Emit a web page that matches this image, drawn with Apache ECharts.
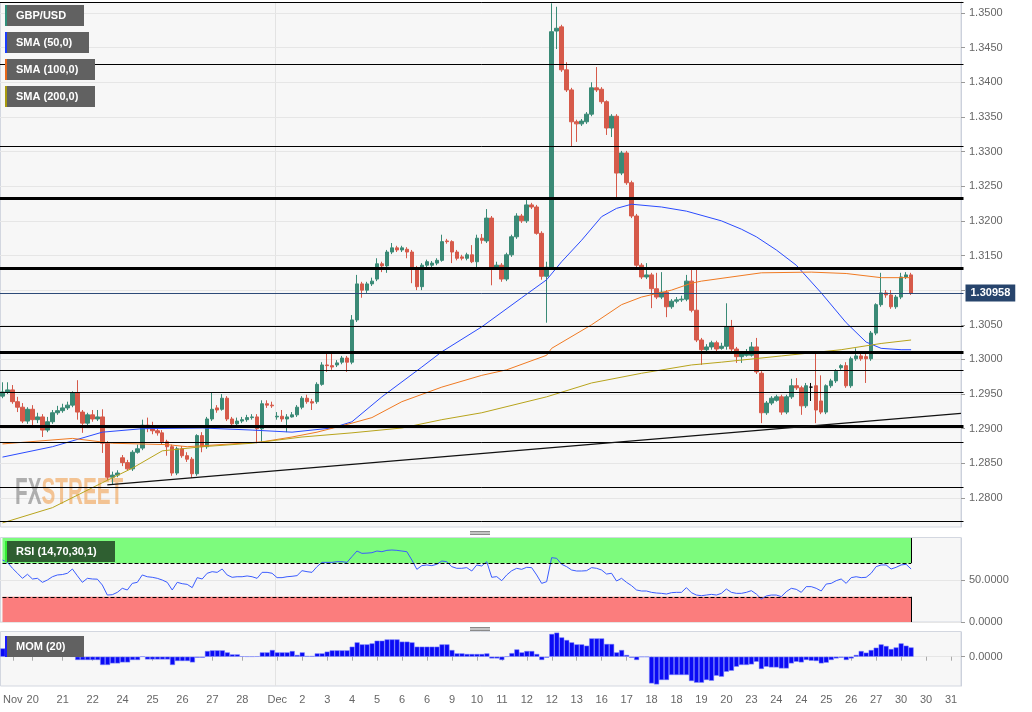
<!DOCTYPE html>
<html><head><meta charset="utf-8">
<script src="https://cdn.jsdelivr.net/npm/echarts@6/dist/echarts.min.js"></script>
<style>html,body{margin:0;padding:0;background:#fff}#c{width:1032px;height:712px}</style>
</head><body><div id="c"></div>
<script>
// ---- DATA ----
// 4H candles: [open, close, low, high]
const ohlc = [
[1.2947,1.2953,1.2944,1.2967],[1.2953,1.2956,1.2950,1.2967],[1.2956,1.2939,1.2936,1.2963],[1.2939,1.2931,1.2924,1.2946],[1.2931,1.2911,1.2908,1.2937],
[1.2911,1.2928,1.2907,1.2931],[1.2928,1.2913,1.2901,1.2934],[1.2913,1.2917,1.2908,1.2923],[1.2917,1.2898,1.2888,1.2921],[1.2898,1.2910,1.2895,1.2917],
[1.2910,1.2923,1.2907,1.2927],[1.2923,1.2926,1.2920,1.2933],[1.2926,1.2930,1.2923,1.2936],[1.2930,1.2934,1.2927,1.2939],[1.2934,1.2952,1.2931,1.2954],
[1.2952,1.2924,1.2913,1.2970],[1.2924,1.2908,1.2894,1.2927],[1.2908,1.2920,1.2905,1.2923],[1.2920,1.2914,1.2910,1.2927],[1.2914,1.2917,1.2911,1.2927],
[1.2917,1.2879,1.2865,1.2928],[1.2879,1.2830,1.2826,1.2882],[1.2830,1.2833,1.2819,1.2838],[1.2833,1.2836,1.2830,1.2840],[1.2858,1.2851,1.2846,1.2862],
[1.2851,1.2842,1.2839,1.2855],[1.2842,1.2866,1.2839,1.2869],[1.2866,1.2871,1.2864,1.2877],[1.2872,1.2905,1.2869,1.2913],[1.2905,1.2901,1.2895,1.2916],
[1.2901,1.2897,1.2892,1.2910],[1.2897,1.2894,1.2890,1.2904],[1.2894,1.2881,1.2877,1.2898],[1.2881,1.2874,1.2861,1.2884],[1.2874,1.2836,1.2832,1.2877],
[1.2836,1.2871,1.2833,1.2874],[1.2871,1.2861,1.2858,1.2875],[1.2861,1.2856,1.2852,1.2866],[1.2856,1.2835,1.2829,1.2859],[1.2835,1.2890,1.2832,1.2892],
[1.2890,1.2874,1.2866,1.2895],[1.2874,1.2914,1.2871,1.2917],[1.2914,1.2928,1.2911,1.2952],[1.2930,1.2927,1.2923,1.2934],[1.2928,1.2944,1.2926,1.2950],
[1.2944,1.2914,1.2911,1.2947],[1.2914,1.2907,1.2901,1.2917],[1.2907,1.2911,1.2904,1.2916],[1.2911,1.2913,1.2908,1.2917],[1.2913,1.2916,1.2910,1.2920],
[1.2916,1.2917,1.2913,1.2921],[1.2917,1.2900,1.2879,1.2921],[1.2900,1.2936,1.2881,1.2941],[1.2936,1.2934,1.2930,1.2941],[1.2934,1.2933,1.2930,1.2939],
[1.2917,1.2918,1.2913,1.2924],[1.2918,1.2914,1.2910,1.2927],[1.2914,1.2917,1.2895,1.2921],[1.2917,1.2920,1.2916,1.2924],[1.2920,1.2931,1.2917,1.2934],
[1.2931,1.2944,1.2928,1.2947],[1.2944,1.2939,1.2936,1.2949],[1.2939,1.2937,1.2927,1.2943],[1.2939,1.2964,1.2936,1.2967],[1.2964,1.2992,1.2962,1.2996],
[1.2992,1.2991,1.2982,1.3009],[1.2991,1.2989,1.2985,1.3009],[1.2992,1.2995,1.2989,1.2999],[1.2996,1.3002,1.2993,1.3005],[1.3002,1.2996,1.2982,1.3005],
[1.2996,1.3057,1.2993,1.3064],[1.3057,1.3109,1.3054,1.3122],[1.3109,1.3100,1.3089,1.3112],[1.3100,1.3109,1.3096,1.3112],[1.3109,1.3113,1.3106,1.3118],
[1.3116,1.3138,1.3113,1.3146],[1.3138,1.3135,1.3126,1.3141],[1.3135,1.3155,1.3125,1.3158],[1.3155,1.3161,1.3152,1.3168],[1.3161,1.3158,1.3155,1.3164],
[1.3158,1.3161,1.3155,1.3164],[1.3159,1.3155,1.3146,1.3162],[1.3155,1.3132,1.3110,1.3158],[1.3132,1.3105,1.3100,1.3135],[1.3105,1.3136,1.3100,1.3139],
[1.3136,1.3141,1.3133,1.3144],[1.3136,1.3139,1.3132,1.3142],[1.3139,1.3143,1.3136,1.3146],[1.3143,1.3170,1.3141,1.3180],[1.3171,1.3170,1.3167,1.3174],
[1.3170,1.3155,1.3139,1.3172],[1.3155,1.3146,1.3143,1.3158],[1.3148,1.3146,1.3143,1.3151],[1.3146,1.3151,1.3143,1.3154],[1.3151,1.3141,1.3139,1.3165],
[1.3141,1.3175,1.3132,1.3180],[1.3175,1.3172,1.3167,1.3181],[1.3171,1.3204,1.3168,1.3217],[1.3204,1.3133,1.3107,1.3207],[1.3133,1.3136,1.3131,1.3141],
[1.3136,1.3116,1.3112,1.3139],[1.3116,1.3151,1.3113,1.3154],[1.3151,1.3177,1.3148,1.3180],[1.3177,1.3207,1.3174,1.3211],[1.3207,1.3200,1.3197,1.3210],
[1.3200,1.3223,1.3197,1.3230],[1.3223,1.3220,1.3217,1.3226],[1.3220,1.3182,1.3180,1.3223],[1.3182,1.3120,1.3115,1.3185],[1.3120,1.3133,1.3053,1.3141],
[1.3133,1.3473,1.3131,1.3514],[1.3474,1.3478,1.3448,1.3509],[1.3480,1.3418,1.3415,1.3483],[1.3418,1.3389,1.3386,1.3429],[1.3389,1.3343,1.3307,1.3392],
[1.3343,1.3340,1.3314,1.3346],[1.3340,1.3344,1.3337,1.3347],[1.3343,1.3354,1.3340,1.3357],[1.3354,1.3392,1.3351,1.3400],[1.3392,1.3389,1.3386,1.3422],
[1.3390,1.3372,1.3369,1.3393],[1.3372,1.3334,1.3324,1.3374],[1.3334,1.3351,1.3321,1.3354],[1.3351,1.3269,1.3234,1.3354],[1.3269,1.3298,1.3266,1.3301],
[1.3298,1.3255,1.3252,1.3301],[1.3255,1.3207,1.3204,1.3258],[1.3207,1.3136,1.3132,1.3210],[1.3136,1.3119,1.3116,1.3139],[1.3119,1.3122,1.3116,1.3139],
[1.3122,1.3102,1.3074,1.3125],[1.3102,1.3090,1.3087,1.3125],[1.3090,1.3097,1.3087,1.3126],[1.3097,1.3076,1.3061,1.3100],[1.3076,1.3084,1.3073,1.3087],
[1.3084,1.3086,1.3081,1.3090],[1.3086,1.3087,1.3083,1.3092],[1.3087,1.3113,1.3084,1.3122],[1.3113,1.3071,1.3068,1.3133],[1.3071,1.3028,1.3025,1.3133],
[1.3028,1.3014,1.2992,1.3031],[1.3014,1.3018,1.3011,1.3022],[1.3018,1.3024,1.3014,1.3027],[1.3024,1.3015,1.3012,1.3027],[1.3016,1.3019,1.3014,1.3024],
[1.3019,1.3047,1.3014,1.3081],[1.3047,1.3015,1.3012,1.3057],[1.3015,1.3004,1.2995,1.3018],[1.3004,1.3008,1.2995,1.3011],[1.3006,1.3011,1.3004,1.3015],
[1.3006,1.3018,1.3004,1.3025],[1.3018,1.2982,1.2979,1.3031],[1.2980,1.2923,1.2908,1.2983],[1.2923,1.2937,1.2920,1.2940],[1.2937,1.2944,1.2934,1.2947],
[1.2941,1.2946,1.2939,1.2949],[1.2946,1.2924,1.2920,1.2949],[1.2924,1.2946,1.2921,1.2949],[1.2946,1.2962,1.2943,1.2972],[1.2962,1.2959,1.2956,1.2973],
[1.2959,1.2933,1.2920,1.2962],[1.2933,1.2962,1.2930,1.2966],[1.2960,1.2960,1.2940,1.2966],[1.2962,1.2927,1.2908,1.3009],[1.2940,1.2924,1.2921,1.2977],
[1.2924,1.2962,1.2921,1.2964],[1.2962,1.2969,1.2959,1.2972],[1.2969,1.2983,1.2966,1.2986],[1.2988,1.2991,1.2985,1.2993],[1.2991,1.2962,1.2959,1.2996],
[1.2962,1.3001,1.2959,1.3004],[1.3001,1.3005,1.2998,1.3016],[1.3005,1.3001,1.2998,1.3008],[1.3004,1.3001,1.2966,1.3008],[1.3001,1.3038,1.2998,1.3041],
[1.3038,1.3079,1.3035,1.3081],[1.3079,1.3096,1.3076,1.3125],[1.3096,1.3093,1.3089,1.3100],[1.3093,1.3076,1.3073,1.3100],[1.3076,1.3090,1.3073,1.3093],
[1.3090,1.3119,1.3087,1.3125],[1.3119,1.3122,1.3116,1.3126],[1.3122,1.30958,1.3093,1.3125]
];
const lastPrice = 1.30958;

// SMA readings (candle index, value)
const sma50Idx = [0,10,20,28,40,50,58,66,70,76,84,88,96,104,109,112,116,120,123,126,132,137,144,148,151,155,159,164,169,173,176,180,182];
const sma50Val = [1.2859,1.2874,1.2895,1.2900,1.2901,1.2898,1.2895,1.2901,1.2910,1.2946,1.2989,1.3011,1.3047,1.3089,1.3115,1.3141,1.3172,1.3206,1.3218,1.3224,1.3220,1.3214,1.3200,1.3188,1.3177,1.3158,1.3136,1.3096,1.3053,1.3025,1.3016,1.3014,1.3014];
const sma100Idx = [0,14,22,33,37,48,52,58,63,70,74,80,88,96,101,109,110,118,124,128,134,138,140,152,162,169,176,182];
const sma100Val = [1.2878,1.2886,1.2879,1.2877,1.2874,1.2879,1.2881,1.2888,1.2895,1.2908,1.2916,1.2939,1.2960,1.2977,1.2985,1.3006,1.3016,1.3050,1.3079,1.3090,1.3100,1.3110,1.3113,1.3125,1.3126,1.3124,1.3118,1.3118];
const sma200Idx = [0,10,20,26,32,40,50,60,70,80,88,96,109,118,128,138,144,156,168,176,182];
const sma200Val = [1.2764,1.2786,1.2822,1.2843,1.2868,1.2874,1.2879,1.2888,1.2894,1.2901,1.2913,1.2923,1.2946,1.2966,1.2980,1.2992,1.2996,1.3005,1.3014,1.3023,1.3028];

// RSI (14)
const rsi = [
73.8,71.0,63.9,58.0,52.0,56.8,51.2,52.0,47.2,50.0,53.9,56.0,56.5,58.0,63.1,55.0,47.2,52.0,51.2,51.0,
44.0,32.1,32.5,35.3,40.1,38.1,46.0,47.2,56.0,53.9,53.2,52.0,50.0,47.2,38.1,47.2,45.6,44.8,40.9,52.8,
51.2,58.0,59.9,59.1,63.1,56.0,53.2,53.9,53.9,54.8,53.9,52.0,59.1,59.1,58.0,52.8,52.8,53.9,54.4,55.2,
61.1,59.9,59.1,65.9,71.0,71.0,71.0,71.8,71.8,71.0,77.8,84.5,81.7,82.0,82.5,84.5,83.7,85.3,85.7,85.3,
84.5,83.7,73.8,62.7,67.1,67.9,67.1,68.7,72.6,71.8,65.9,63.9,63.9,64.7,60.7,67.9,66.7,71.8,53.2,54.0,
49.2,56.0,61.0,63.9,62.7,65.1,64.7,56.0,46.0,48.0,76.6,75.8,68.7,65.9,61.9,60.7,60.7,61.1,64.7,63.9,
61.9,57.1,58.0,48.8,52.0,47.2,43.3,38.1,36.9,36.9,35.3,34.5,34.1,33.3,34.9,35.3,35.3,40.9,34.9,32.1,
31.3,32.1,32.9,32.1,34.1,39.3,35.3,34.1,34.1,35.3,37.3,33.3,27.4,31.0,32.1,32.1,30.2,36.1,40.1,38.9,
35.3,42.1,42.1,40.1,36.9,45.2,46.0,49.2,51.2,46.0,52.8,53.9,52.8,53.2,58.0,65.9,67.9,67.9,63.1,65.1,
67.9,68.7,63.1
];
const rsiUpper = 70, rsiLower = 30;

// Momentum (20)
const mom = [
0.0115,0.0079,0.0079,0.0079,0.0046,0.0046,0.0024,0.0024,0.0024,0.0024,
0.0024,0.0024,0.0024,0.0024,0.0003,-0.0046,-0.0046,-0.0046,-0.0046,-0.0046,
-0.0115,-0.0115,-0.0093,-0.0093,-0.0079,-0.0079,-0.0046,-0.0046,0.0003,-0.0038,
-0.0038,-0.0038,-0.0038,-0.0038,-0.0115,-0.0060,-0.0060,-0.0060,-0.0079,-0.0014,
-0.0014,0.0079,0.0088,0.0088,0.0088,0.0060,0.0032,0.0032,0.0005,0.0003,
0.0003,0.0005,0.0060,0.0060,0.0093,0.0060,0.0060,0.0060,0.0079,0.0024,
0.0060,0.0010,0.0010,0.0046,0.0046,0.0070,0.0088,0.0088,0.0088,0.0088,
0.0139,0.0199,0.0171,0.0171,0.0185,0.0222,0.0222,0.0240,0.0240,0.0240,
0.0209,0.0209,0.0199,0.0139,0.0139,0.0139,0.0139,0.0139,0.0171,0.0171,
0.0093,0.0046,0.0046,0.0038,0.0038,0.0038,0.0038,0.0046,-0.0024,-0.0024,
-0.0046,0.0003,0.0050,0.0101,0.0060,0.0079,0.0079,0.0038,-0.0046,-0.0014,
0.0316,0.0334,0.0268,0.0232,0.0199,0.0171,0.0171,0.0153,0.0254,0.0254,
0.0254,0.0177,0.0177,0.0060,0.0093,0.0024,-0.0014,-0.0046,-0.0003,-0.0003,
-0.0371,-0.0385,-0.0324,-0.0324,-0.0254,-0.0254,-0.0254,-0.0254,-0.0338,-0.0361,
-0.0361,-0.0324,-0.0334,-0.0264,-0.0278,-0.0209,-0.0195,-0.0139,-0.0115,-0.0115,
-0.0107,-0.0070,-0.0171,-0.0139,-0.0149,-0.0149,-0.0163,-0.0163,-0.0093,-0.0070,
-0.0079,-0.0046,-0.0056,-0.0060,-0.0093,-0.0083,-0.0046,-0.0024,-0.0014,-0.0046,
-0.0024,0.0024,0.0079,0.0056,0.0093,0.0125,0.0171,0.0149,0.0107,0.0129,
0.0185,0.0153,0.0129
];

// Horizontal levels and trend line
const levelsThin = [1.3515,1.3426,1.3308,1.3048,1.2985,1.2952,1.2881,1.2815,1.2767];
const levelsThick = [1.3232,1.3131,1.3011,1.2904];
const trendFrom = [21, 1.2819];
const trendTo = [192, 1.2922];

// axis labels
const priceTicks = [1.28,1.285,1.29,1.295,1.30,1.305,1.31,1.315,1.32,1.325,1.33,1.335,1.34,1.345,1.35];
const xTickIdx = [2,6,12,18,24,30,36,42,48,55,60,65,70,75,80,85,90,95,100,105,110,115,120,125,130,135,140,145,150,155,160,165,170,175,180,185,190];
const xTickText = ['Nov','20','21','22','24','25','26','27','28','Dec','2','3','4','5','6','6','9','10','11','12','12','13','16','17','18','18','19','20','23','24','24','25','26','27','30','30','31'];
const nCategories = 193;

// ---- BUILD ----
const cats = Array.from({length: nCategories}, (_, i) => String(i));
const tickMap = {};
xTickIdx.forEach((k, j) => { tickMap[k] = xTickText[j]; });
function sparse(idx, val) {
  const a = new Array(ohlc.length).fill(null);
  idx.forEach((k, j) => { a[k] = val[j]; });
  return a;
}
const FONT = '"Liberation Sans", Arial, sans-serif';
const GL = -1.5, GW = 965;
const grids = [
  {left: GL, width: GW, top: 2, height: 525},
  {left: GL, width: GW, top: 538, height: 84},
  {left: GL, width: GW, top: 632, height: 54}
];
const hiddenX = (gi) => ({
  type: 'category', gridIndex: gi, data: cats, boundaryGap: true,
  axisLine: {show: false}, axisTick: {show: false}, axisLabel: {show: false}, splitLine: {show: false}
});
const yBase = {
  position: 'right', offset: -2.5,
  axisLine: {show: true, lineStyle: {color: '#ccd1dc'}},
  axisTick: {show: true, length: 4, lineStyle: {color: '#999'}},
  axisLabel: {color: '#666', fontSize: 11, fontFamily: FONT, margin: 8, formatter: v => Number(v).toFixed(4)},
  splitLine: {show: true, lineStyle: {color: '#e6e6e6', width: 1}}
};

const mctx = document.createElement('canvas').getContext('2d');
mctx.font = 'bold 37px "Liberation Sans", Arial, sans-serif';
const fxW = mctx.measureText('FX').width * 0.56;

function tag(x, y, w, txt, strip, bg) {
  return {type: 'group', x: x, y: y, z: 100, children: [
    {type: 'rect', shape: {x: 0, y: 0, width: w, height: 21}, style: {fill: bg || '#616161'}, z: 100},
    {type: 'rect', shape: {x: 0, y: 0, width: 2, height: 21}, style: {fill: strip}, z: 101},
    {type: 'text', x: 11, y: 11, z: 101, style: {text: txt, fill: '#fff', font: 'bold 11px ' + FONT, verticalAlign: 'middle', align: 'left'}}
  ]};
}
const panelStyle = {fill: '#f7f7f7', stroke: '#d3d7e0', lineWidth: 1};
const graphics = [
  {type: 'rect', z: -10, shape: {x: 0.5, y: 2.5, width: 960.5, height: 524.5}, style: panelStyle},
  {type: 'rect', z: -10, shape: {x: 0.5, y: 537.5, width: 960.5, height: 84.5}, style: panelStyle},
  {type: 'rect', z: -10, shape: {x: 0.5, y: 631.5, width: 960.5, height: 54.5}, style: panelStyle},
  {type: 'line', z: -9, shape: {x1: 275.5, y1: 3, x2: 275.5, y2: 527}, style: {stroke: '#e3e3e3', lineWidth: 1}},
  {type: 'line', z: -9, shape: {x1: 275.5, y1: 538, x2: 275.5, y2: 622}, style: {stroke: '#e3e3e3', lineWidth: 1}},
  {type: 'line', z: -9, shape: {x1: 275.5, y1: 632, x2: 275.5, y2: 686}, style: {stroke: '#e3e3e3', lineWidth: 1}},
  {type: 'text', z: 1, x: 15, y: 494, scaleX: 0.56, style: {text: 'FX', fill: 'rgba(115,115,115,0.55)', font: 'bold 37px ' + FONT, verticalAlign: 'middle'}},
  {type: 'text', z: 1, x: 15 + fxW, y: 494, scaleX: 0.56, style: {text: 'STREET', fill: 'rgba(240,160,80,0.6)', font: 'bold 37px ' + FONT, verticalAlign: 'middle'}},
  tag(5, 5, 79, 'GBP/USD', '#2f8f7a'),
  tag(5, 32, 84, 'SMA (50,0)', '#1a3cff'),
  tag(5, 59, 90, 'SMA (100,0)', '#e8681a'),
  tag(5, 86, 90, 'SMA (200,0)', '#a89a10'),
  tag(5, 541, 110, 'RSI (14,70,30,1)', '#33ee33', '#2f5f31'),
  tag(5, 636, 79, 'MOM (20)', '#1a1aff')
];
[531, 627].forEach(y0 => {
  [0, 1.5, 3].forEach(d => graphics.push({type: 'line', z: 5, shape: {x1: 470, y1: y0 + d + 0.5, x2: 490, y2: y0 + d + 0.5}, style: {stroke: '#8a8a8a', lineWidth: 1}}));
});

const levelLines = [];
levelsThin.forEach(v => levelLines.push({yAxis: v, lineStyle: {color: '#000', width: 1, type: 'solid'}}));
levelsThick.forEach(v => levelLines.push({yAxis: v, lineStyle: {color: '#000', width: 3, type: 'solid'}}));
levelLines.push([{coord: trendFrom, lineStyle: {color: '#111', width: 1.3, type: 'solid'}}, {coord: trendTo}]);
levelLines.push({yAxis: lastPrice, lineStyle: {color: '#2d4a78', width: 1, type: 'solid'},
  label: {show: true, position: 'end', distance: 2, formatter: lastPrice.toFixed(5), backgroundColor: '#27446c',
    color: '#fff', fontWeight: 'bold', fontSize: 11, fontFamily: FONT, padding: [3, 5, 3, 5]}});

const lastIdx = ohlc.length - 1;
const smaLine = (name, idx, val, color) => ({
  name: name, type: 'line', xAxisIndex: 0, yAxisIndex: 0, data: sparse(idx, val), connectNulls: true,
  showSymbol: false, symbol: 'none', smooth: false, z: 4, lineStyle: {color: color, width: 1}, silent: true
});

const option = {
  animation: false,
  backgroundColor: '#ffffff',
  grid: grids,
  graphic: graphics,
  xAxis: [hiddenX(0), hiddenX(1), {
    type: 'category', gridIndex: 2, data: cats, boundaryGap: true,
    axisLine: {show: false},
    axisTick: {show: true, alignWithLabel: true, length: 4, lineStyle: {color: '#aaa'}, interval: (i) => tickMap[i] !== undefined},
    axisLabel: {show: true, color: '#666', fontSize: 11, fontFamily: FONT, margin: 8,
      interval: (i) => tickMap[i] !== undefined, formatter: (v, i) => tickMap[i] || ''},
    splitLine: {show: false}
  }],
  yAxis: [
    Object.assign({}, yBase, {type: 'value', gridIndex: 0, min: 1.27581, max: 1.35159,
      axisLabel: Object.assign({}, yBase.axisLabel, {customValues: priceTicks}),
      axisTick: Object.assign({}, yBase.axisTick, {customValues: priceTicks})}),
    Object.assign({}, yBase, {type: 'value', gridIndex: 1, min: 0, max: 100,
      axisLabel: Object.assign({}, yBase.axisLabel, {customValues: [0, 50]}),
      axisTick: Object.assign({}, yBase.axisTick, {customValues: [0, 50]})}),
    Object.assign({}, yBase, {type: 'value', gridIndex: 2, min: -0.0407, max: 0.0343,
      axisLabel: Object.assign({}, yBase.axisLabel, {customValues: [0]}),
      axisTick: Object.assign({}, yBase.axisTick, {customValues: [0]})})
  ],
  series: [
    {
      name: 'GBP/USD', type: 'candlestick', xAxisIndex: 0, yAxisIndex: 0, data: ohlc, barWidth: 4, z: 3,
      itemStyle: {color: '#3a8a76', color0: '#d65a4a', borderColor: '#3a8a76', borderColor0: '#d65a4a', borderColorDoji: '#000', borderWidth: 1},
      markLine: {silent: true, precision: 6, symbol: ['none', 'none'], animation: false, label: {show: false}, data: levelLines, z: 6}
    },
    smaLine('SMA (50,0)', sma50Idx, sma50Val, '#2a4bff'),
    smaLine('SMA (100,0)', sma100Idx, sma100Val, '#f07a22'),
    smaLine('SMA (200,0)', sma200Idx, sma200Val, '#b8a41c'),
    {
      name: 'RSI', type: 'line', xAxisIndex: 1, yAxisIndex: 1, data: rsi, symbol: 'none', showSymbol: false,
      lineStyle: {color: '#3a5cff', width: 1}, z: 4, silent: true,
      markArea: {silent: true, data: [
        [{coord: [0, rsiUpper], itemStyle: {color: '#7dfb7d'}}, {coord: [lastIdx, 100]}],
        [{coord: [0, 0], itemStyle: {color: '#fb7d7d'}}, {coord: [lastIdx, rsiLower]}]
      ]},
      markLine: {silent: true, precision: 6, symbol: ['none', 'none'], label: {show: false}, data: [
        [{coord: [0, rsiUpper], lineStyle: {color: '#000', width: 1, type: 'dashed'}}, {coord: [lastIdx, rsiUpper]}],
        [{coord: [0, rsiLower], lineStyle: {color: '#000', width: 1, type: 'dashed'}}, {coord: [lastIdx, rsiLower]}],
        [{coord: [lastIdx, rsiUpper], lineStyle: {color: '#000', width: 1, type: 'solid'}}, {coord: [lastIdx, 100]}],
        [{coord: [lastIdx, 0], lineStyle: {color: '#000', width: 1, type: 'solid'}}, {coord: [lastIdx, rsiLower]}]
      ]}
    },
    {
      name: 'MOM', type: 'bar', xAxisIndex: 2, yAxisIndex: 2, data: mom, barWidth: '100%', barCategoryGap: 0,
      itemStyle: {color: '#0a0af5', borderColor: '#7c86ff', borderWidth: 0.5}, silent: true, z: 3
    }
  ]
};
const chart = echarts.init(document.getElementById('c'));
chart.setOption(option);
</script>
</body></html>
